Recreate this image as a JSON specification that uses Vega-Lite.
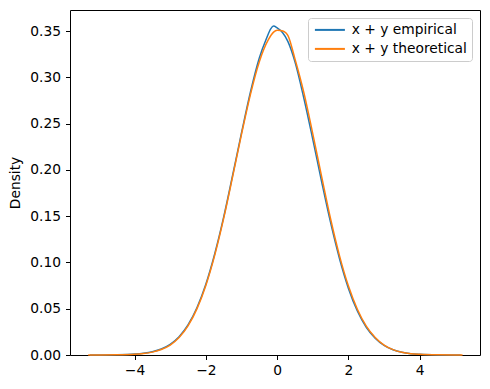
{
  "$schema": "https://vega.github.io/schema/vega-lite/v6.json",
  "width": 410,
  "height": 345,
  "autosize": "none",
  "padding": {"left": 70, "top": 10, "right": 10, "bottom": 34},
  "background": "white",
  "config": {
    "font": "DejaVu Sans",
    "view": {"stroke": "black", "strokeWidth": 1},
    "axis": {
      "domain": false,
      "grid": false,
      "tickColor": "black",
      "tickSize": 4.5,
      "tickWidth": 1,
      "labelColor": "black",
      "labelFontSize": 13.8,
      "labelFont": "DejaVu Sans",
      "titleFont": "DejaVu Sans",
      "titleFontSize": 13.8,
      "titleFontWeight": "normal",
      "titleColor": "black"
    }
  },
  "data": {
    "values": [
      {"x": -5.25, "density": 0.00002, "series": "x + y empirical"},
      {"x": -5.0, "density": 0.00006, "series": "x + y empirical"},
      {"x": -4.5, "density": 0.0003, "series": "x + y empirical"},
      {"x": -4.0, "density": 0.0011, "series": "x + y empirical"},
      {"x": -3.75, "density": 0.002, "series": "x + y empirical"},
      {"x": -3.5, "density": 0.0036, "series": "x + y empirical"},
      {"x": -3.25, "density": 0.0065, "series": "x + y empirical"},
      {"x": -3.0, "density": 0.0115, "series": "x + y empirical"},
      {"x": -2.75, "density": 0.0198, "series": "x + y empirical"},
      {"x": -2.5, "density": 0.0325, "series": "x + y empirical"},
      {"x": -2.25, "density": 0.051, "series": "x + y empirical"},
      {"x": -2.0, "density": 0.0765, "series": "x + y empirical"},
      {"x": -1.75, "density": 0.1095, "series": "x + y empirical"},
      {"x": -1.5, "density": 0.149, "series": "x + y empirical"},
      {"x": -1.25, "density": 0.194, "series": "x + y empirical"},
      {"x": -1.0, "density": 0.24, "series": "x + y empirical"},
      {"x": -0.75, "density": 0.284, "series": "x + y empirical"},
      {"x": -0.5, "density": 0.321, "series": "x + y empirical"},
      {"x": -0.3, "density": 0.342, "series": "x + y empirical"},
      {"x": -0.18, "density": 0.3525, "series": "x + y empirical"},
      {"x": -0.1, "density": 0.3555, "series": "x + y empirical"},
      {"x": 0.0, "density": 0.3535, "series": "x + y empirical"},
      {"x": 0.15, "density": 0.3485, "series": "x + y empirical"},
      {"x": 0.3, "density": 0.339, "series": "x + y empirical"},
      {"x": 0.5, "density": 0.317, "series": "x + y empirical"},
      {"x": 0.75, "density": 0.2775, "series": "x + y empirical"},
      {"x": 1.0, "density": 0.233, "series": "x + y empirical"},
      {"x": 1.25, "density": 0.187, "series": "x + y empirical"},
      {"x": 1.5, "density": 0.143, "series": "x + y empirical"},
      {"x": 1.75, "density": 0.104, "series": "x + y empirical"},
      {"x": 2.0, "density": 0.072, "series": "x + y empirical"},
      {"x": 2.25, "density": 0.0475, "series": "x + y empirical"},
      {"x": 2.5, "density": 0.03, "series": "x + y empirical"},
      {"x": 2.75, "density": 0.0182, "series": "x + y empirical"},
      {"x": 3.0, "density": 0.0104, "series": "x + y empirical"},
      {"x": 3.25, "density": 0.0056, "series": "x + y empirical"},
      {"x": 3.5, "density": 0.0029, "series": "x + y empirical"},
      {"x": 3.75, "density": 0.0014, "series": "x + y empirical"},
      {"x": 4.0, "density": 0.0007, "series": "x + y empirical"},
      {"x": 4.5, "density": 0.00013, "series": "x + y empirical"},
      {"x": 5.0, "density": 0.00002, "series": "x + y empirical"},
      {"x": 5.15, "density": 0.00001, "series": "x + y empirical"},
      {"x": -5.3, "density": 0.00002, "series": "x + y theoretical"},
      {"x": -5.0, "density": 0.00005, "series": "x + y theoretical"},
      {"x": -4.5, "density": 0.0002, "series": "x + y theoretical"},
      {"x": -4.0, "density": 0.0008, "series": "x + y theoretical"},
      {"x": -3.75, "density": 0.0016, "series": "x + y theoretical"},
      {"x": -3.5, "density": 0.0031, "series": "x + y theoretical"},
      {"x": -3.25, "density": 0.0059, "series": "x + y theoretical"},
      {"x": -3.0, "density": 0.0107, "series": "x + y theoretical"},
      {"x": -2.75, "density": 0.0188, "series": "x + y theoretical"},
      {"x": -2.5, "density": 0.0314, "series": "x + y theoretical"},
      {"x": -2.25, "density": 0.0498, "series": "x + y theoretical"},
      {"x": -2.0, "density": 0.0752, "series": "x + y theoretical"},
      {"x": -1.75, "density": 0.108, "series": "x + y theoretical"},
      {"x": -1.5, "density": 0.1476, "series": "x + y theoretical"},
      {"x": -1.25, "density": 0.1925, "series": "x + y theoretical"},
      {"x": -1.0, "density": 0.2385, "series": "x + y theoretical"},
      {"x": -0.75, "density": 0.2815, "series": "x + y theoretical"},
      {"x": -0.5, "density": 0.317, "series": "x + y theoretical"},
      {"x": -0.25, "density": 0.3405, "series": "x + y theoretical"},
      {"x": -0.1, "density": 0.349, "series": "x + y theoretical"},
      {"x": 0.0, "density": 0.351, "series": "x + y theoretical"},
      {"x": 0.1, "density": 0.3507, "series": "x + y theoretical"},
      {"x": 0.2, "density": 0.3495, "series": "x + y theoretical"},
      {"x": 0.3, "density": 0.3455, "series": "x + y theoretical"},
      {"x": 0.5, "density": 0.32, "series": "x + y theoretical"},
      {"x": 0.75, "density": 0.2835, "series": "x + y theoretical"},
      {"x": 1.0, "density": 0.239, "series": "x + y theoretical"},
      {"x": 1.25, "density": 0.1925, "series": "x + y theoretical"},
      {"x": 1.5, "density": 0.147, "series": "x + y theoretical"},
      {"x": 1.75, "density": 0.1072, "series": "x + y theoretical"},
      {"x": 2.0, "density": 0.0745, "series": "x + y theoretical"},
      {"x": 2.25, "density": 0.0495, "series": "x + y theoretical"},
      {"x": 2.5, "density": 0.0313, "series": "x + y theoretical"},
      {"x": 2.75, "density": 0.019, "series": "x + y theoretical"},
      {"x": 3.0, "density": 0.0108, "series": "x + y theoretical"},
      {"x": 3.25, "density": 0.0058, "series": "x + y theoretical"},
      {"x": 3.5, "density": 0.0029, "series": "x + y theoretical"},
      {"x": 3.75, "density": 0.0014, "series": "x + y theoretical"},
      {"x": 4.0, "density": 0.0007, "series": "x + y theoretical"},
      {"x": 4.5, "density": 0.00015, "series": "x + y theoretical"},
      {"x": 5.0, "density": 0.00003, "series": "x + y theoretical"},
      {"x": 5.2, "density": 0.00001, "series": "x + y theoretical"}
    ]
  },
  "mark": {"type": "line", "strokeWidth": 1.5, "interpolate": "monotone"},
  "encoding": {
    "x": {
      "field": "x",
      "type": "quantitative",
      "scale": {"domain": [-5.81, 5.69], "nice": false, "zero": false},
      "axis": {"title": null, "values": [-4, -2, 0, 2, 4], "format": "d", "labelPadding": 4}
    },
    "y": {
      "field": "density",
      "type": "quantitative",
      "scale": {"domain": [0, 0.3729], "nice": false},
      "axis": {"title": "Density", "values": [0, 0.05, 0.1, 0.15, 0.2, 0.25, 0.3, 0.35], "format": ".2f", "labelPadding": 5, "titlePadding": 7}
    },
    "color": {
      "field": "series",
      "type": "nominal",
      "scale": {"domain": ["x + y empirical", "x + y theoretical"], "range": ["#1f77b4", "#ff7f0e"]},
      "legend": {
        "title": null,
        "orient": "top-right",
        "offset": 8,
        "symbolType": "M-1,0H5",
        "symbolSize": 100,
        "symbolStrokeWidth": 2,
        "labelFontSize": 13.8,
        "labelFont": "DejaVu Sans",
        "labelColor": "black",
        "fillColor": "white",
        "strokeColor": "#cccccc",
        "cornerRadius": 3,
        "padding": 5,
        "rowPadding": 4,
        "labelOffset": 25
      }
    }
  }
}
